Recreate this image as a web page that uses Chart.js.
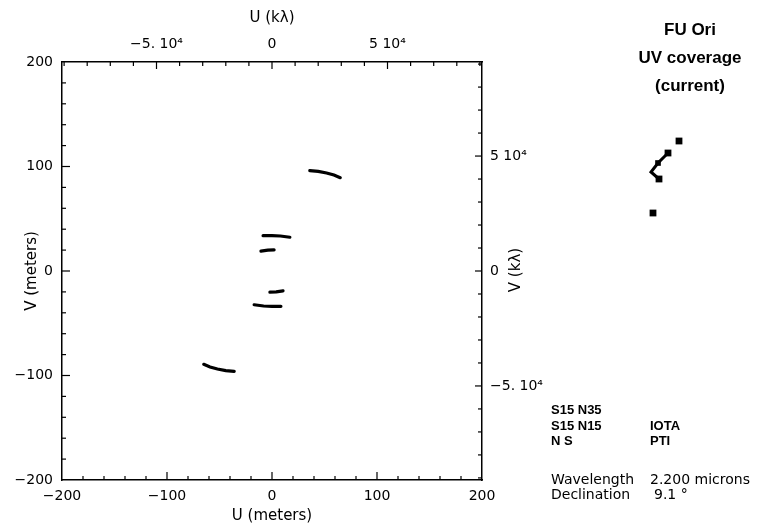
<!DOCTYPE html>
<html>
<head>
<meta charset="utf-8">
<script src="https://cdn.jsdelivr.net/npm/chart.js@4.4.0/dist/chart.umd.min.js"></script>
<style>
  body { margin: 0; background: #fff; }
  #wrap { position: relative; width: 760px; height: 525px; }
  #main { position: absolute; left: 0; top: 0; width: 760px; height: 525px; }
  #inset { position: absolute; left: 620px; top: 120px; width: 80px; height: 110px; }
  .t { position: absolute; color: #000; white-space: pre; line-height: 16px; }
  .ttl { font: bold 17px "Liberation Sans", Arial, sans-serif; width: 160px; text-align: center; left: 610px; line-height: 20px; }
  .st { font: bold 13px "Liberation Sans", Arial, sans-serif; }
  .info { font: 14px "DejaVu Sans", sans-serif; }
  #vkl { font: 15px "DejaVu Sans", sans-serif; left: 475px; top: 261px; width: 80px; text-align: center; transform: rotate(-90deg); line-height: 18px; }
</style>
</head>
<body>
<div id="wrap">
  <div id="main"><canvas id="uv"></canvas></div>
  <div id="inset"><canvas id="ins"></canvas></div>
  <div class="t ttl" style="top:20px">FU Ori</div>
  <div class="t ttl" style="top:48px">UV coverage</div>
  <div class="t ttl" style="top:76px">(current)</div>
  <div class="t" id="vkl">V (kλ)</div>
  <div class="t st" style="left:551px;top:402px">S15 N35</div>
  <div class="t st" style="left:551px;top:418px">S15 N15</div>
  <div class="t st" style="left:650px;top:418px">IOTA</div>
  <div class="t st" style="left:551px;top:433px">N S</div>
  <div class="t st" style="left:650px;top:433px">PTI</div>
  <div class="t info" style="left:551px;top:471px">Wavelength</div>
  <div class="t info" style="left:650px;top:471px">2.200 microns</div>
  <div class="t info" style="left:551px;top:486px">Declination</div>
  <div class="t info" style="left:654px;top:486px">9.1 °</div>
</div>
<script>
// uv tracks, metres (u, v) -- each baseline and its mirror
var track1 = [{x:36,y:96},{x:44,y:95.3},{x:52,y:93.8},{x:59,y:91.8},{x:65,y:89.3}];
var track2 = [{x:-8.5,y:33.8},{x:0,y:33.8},{x:8,y:33.5},{x:17,y:32.3}];
var track3 = [{x:-10.5,y:19},{x:-4,y:20},{x:2,y:20.3}];
var track4 = [{x:-2,y:-20.3},{x:4,y:-20},{x:10.5,y:-19}];
var track5 = [{x:-17,y:-32.3},{x:-8,y:-33.5},{x:0,y:-33.8},{x:8.5,y:-33.8}];
var track6 = [{x:-65,y:-89.3},{x:-59,y:-91.8},{x:-52,y:-93.8},{x:-44,y:-95.3},{x:-36,y:-96}];

// small array sketch at the right
var insetLine = [{x:48,y:77},{x:38,y:67},{x:31,y:58},{x:39,y:51}];
var insetSize = [4.8, 4, 0, 4.8];
var insetDots = [{x:59,y:89},{x:33,y:17}];

// ticks
var meterMajor = [-100, 0, 100];
var meterMinor = [-180,-160,-140,-120,-80,-60,-40,-20,20,40,60,80,120,140,160,180];
var klMajor = [-50000, 0, 50000];
var klMinor = [-90000,-80000,-70000,-60000,-40000,-30000,-20000,-10000,10000,20000,30000,40000,60000,70000,80000,90000];
var klLabels = ['\u22125. 10\u2074', '0', '5 10\u2074'];

var wavelength = 2.2e-6;          // metres
var klPerMeter = 1 / wavelength / 1000;
var maxM = 200;

function minus(v) { return String(v).replace('-', '\u2212'); }

var insideTicks = {
  id: 'insideTicks',
  afterDatasetsDraw: function(chart) {
    var ctx = chart.ctx;
    var a = chart.chartArea;
    ctx.save();
    ctx.strokeStyle = '#000';
    ctx.lineWidth = 1.2;
    function mark(id, values, len) {
      var s = chart.scales[id];
      values.forEach(function(v) {
        var p = s.getPixelForValue(v);
        ctx.beginPath();
        if (id == 'x') { ctx.moveTo(p, a.bottom); ctx.lineTo(p, a.bottom - len); }
        if (id == 'x2') { ctx.moveTo(p, a.top); ctx.lineTo(p, a.top + len); }
        if (id == 'y') { ctx.moveTo(a.left, p); ctx.lineTo(a.left + len, p); }
        if (id == 'y2') { ctx.moveTo(a.right, p); ctx.lineTo(a.right - len, p); }
        ctx.stroke();
      });
    }
    mark('x', meterMajor, 8); mark('x', meterMinor, 4);
    mark('y', meterMajor, 8); mark('y', meterMinor, 4);
    mark('x2', klMajor, 7); mark('x2', klMinor, 4);
    mark('y2', klMajor, 7); mark('y2', klMinor, 4);
    ctx.restore();
  }
};

var tickFont = { family: 'DejaVu Sans', size: 14 };
var titleFont = { family: 'DejaVu Sans', size: 15 };
var border = { display: true, color: '#000', width: 1.5 };
var grid = { drawOnChartArea: false, drawTicks: false };

function trackSet(d) {
  return { data: d, showLine: true, borderColor: '#000', backgroundColor: '#000',
           borderWidth: 3.2, pointRadius: 0, borderCapStyle: 'round', clip: false };
}

new Chart(document.getElementById('uv'), {
  type: 'scatter',
  data: { datasets: [trackSet(track1), trackSet(track2), trackSet(track3),
                     trackSet(track4), trackSet(track5), trackSet(track6)] },
  options: {
    responsive: true, maintainAspectRatio: false, animation: false,
    layout: { autoPadding: false, padding: { left: 0, right: 208, top: 9, bottom: 0 } },
    plugins: { legend: { display: false }, tooltip: { enabled: false } },
    scales: {
      x: {
        type: 'linear', position: 'bottom', min: -maxM, max: maxM,
        grid: grid, border: border,
        ticks: { stepSize: 100, color: '#000', font: tickFont, padding: 8, maxRotation: 0, autoSkip: false, callback: minus },
        title: { display: true, text: 'U (meters)', color: '#000', font: titleFont, padding: 0 },
        afterFit: function(s) { s.height = 45; }
      },
      x2: {
        type: 'linear', position: 'top', min: -maxM * klPerMeter, max: maxM * klPerMeter,
        grid: grid, border: border,
        afterBuildTicks: function(s) { s.ticks = klMajor.map(function(v) { return { value: v }; }); },
        ticks: { color: '#000', font: tickFont, padding: 9, maxRotation: 0, autoSkip: false,
                 callback: function(v, i) { return klLabels[i]; } },
        title: { display: true, text: 'U (kλ)', color: '#000', font: titleFont, padding: 0 },
        afterFit: function(s) { s.height = 53; }
      },
      y: {
        type: 'linear', position: 'left', min: -maxM, max: maxM,
        grid: grid, border: border,
        ticks: { stepSize: 100, color: '#000', font: tickFont, padding: 9, autoSkip: false, callback: minus },
        title: { display: true, text: 'V (meters)', color: '#000', font: titleFont, padding: { top: 23, bottom: 0 } },
        afterFit: function(s) { s.width = 62; }
      },
      y2: {
        type: 'linear', position: 'right', min: -maxM * klPerMeter, max: maxM * klPerMeter,
        grid: grid, border: border,
        afterBuildTicks: function(s) { s.ticks = klMajor.map(function(v) { return { value: v }; }); },
        ticks: { color: '#000', font: tickFont, padding: 8, autoSkip: false,
                 callback: function(v, i) { return klLabels[i]; } },
        afterFit: function(s) { s.width = 70; }
      }
    }
  },
  plugins: [insideTicks]
});

new Chart(document.getElementById('ins'), {
  type: 'scatter',
  data: { datasets: [
    { data: insetLine, showLine: true, borderColor: '#000', backgroundColor: '#000', borderWidth: 3,
      pointStyle: 'rect', pointRadius: insetSize, pointBorderWidth: 0, clip: false },
    { data: insetDots, borderColor: '#000', backgroundColor: '#000',
      pointStyle: 'rect', pointRadius: 4.8, pointBorderWidth: 0, clip: false }
  ] },
  options: {
    responsive: true, maintainAspectRatio: false, animation: false,
    layout: { autoPadding: false, padding: 0 },
    plugins: { legend: { display: false }, tooltip: { enabled: false } },
    scales: {
      x: { display: false, min: 0, max: 80 },
      y: { display: false, min: 0, max: 110 }
    }
  }
});
</script>
</body>
</html>
